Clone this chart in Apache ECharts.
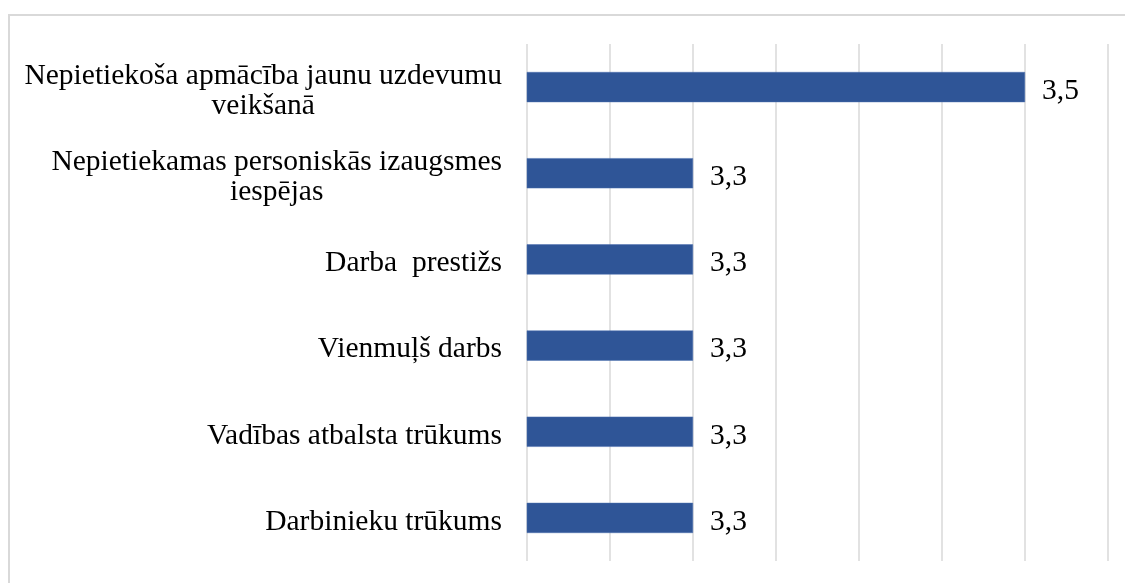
<!DOCTYPE html>
<html>
<head>
<meta charset="utf-8">
<script src="https://cdn.jsdelivr.net/npm/echarts@6/dist/echarts.min.js"></script>
<style>
  html, body { margin: 0; padding: 0; background: #ffffff; }
  #chart { width: 1125px; height: 583px; }
</style>
</head>
<body>
<div id="chart"></div>
<script>
const categories = [
  'Nepietiekoša apmācība jaunu uzdevumu\nveikšanā',
  'Nepietiekamas personiskās izaugsmes\niespējas',
  'Darba  prestižs',
  'Vienmuļš darbs',
  'Vadības atbalsta trūkums',
  'Darbinieku trūkums'
];
const values = [3.5, 3.3, 3.3, 3.3, 3.3, 3.3];
const axisMin = 3.2;
const axisMax = 3.55;
const axisInterval = 0.05;

const FONT = "'Liberation Serif', 'Times New Roman', serif";

const chart = echarts.init(document.getElementById('chart'), null, { renderer: 'canvas' });
chart.setOption({
  animation: false,
  backgroundColor: '#ffffff',
  graphic: [{
    type: 'rect',
    shape: { x: 9, y: 15, width: 1300, height: 800 },
    style: { fill: 'none', stroke: '#d9d9d9', lineWidth: 2 },
    silent: true,
    z: -10
  }],
  grid: { left: 527, right: 17, top: 44, bottom: 22 },
  xAxis: {
    type: 'value',
    min: axisMin,
    max: axisMax,
    interval: axisInterval,
    axisLabel: { show: false },
    axisLine: { show: false },
    axisTick: { show: false },
    splitLine: { show: true, lineStyle: { color: '#d9d9d9', width: 1.5 } }
  },
  yAxis: {
    type: 'category',
    inverse: true,
    data: categories,
    axisLine: { show: false },
    axisTick: { show: false },
    axisLabel: {
      margin: 25,
      align: 'right',
      color: '#000000',
      fontFamily: FONT,
      fontSize: 29.5,
      padding: [8, 0, 0, 0],
      formatter: function (v) {
        return v.split('\n').map(function (s) { return '{c|' + s + '}'; }).join('\n');
      },
      rich: {
        c: { align: 'center', fontFamily: FONT, fontSize: 29.5, lineHeight: 30, color: '#000000' }
      }
    }
  },
  series: [{
    type: 'bar',
    data: values,
    barCategoryGap: '65%',
    itemStyle: { color: '#2f5597', borderColor: '#4a6fae', borderWidth: 0.5 },
    label: {
      show: true,
      position: 'right',
      distance: 17,
      offset: [0, 4],
      color: '#000000',
      fontFamily: FONT,
      fontSize: 29.5,
      formatter: function (p) { return p.value.toFixed(1).replace('.', ','); }
    }
  }]
});
</script>
</body>
</html>
